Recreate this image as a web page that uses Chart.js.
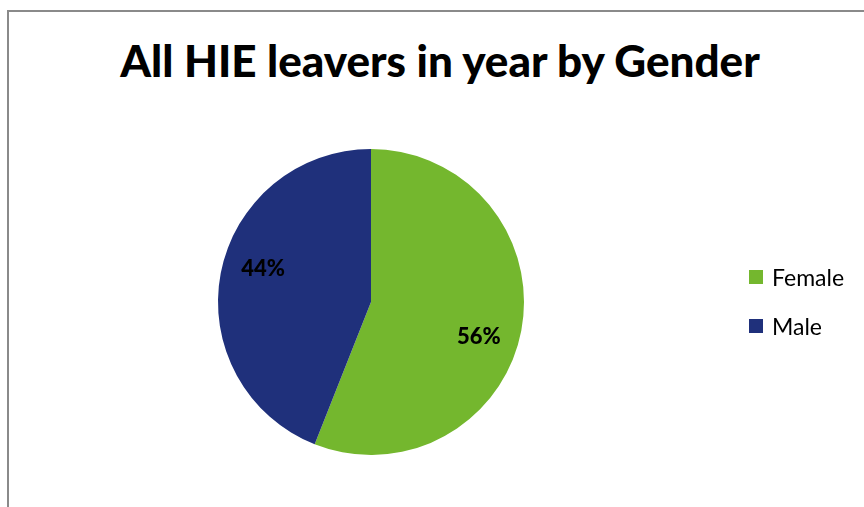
<!DOCTYPE html>
<html>
<head>
<meta charset="utf-8">
<script src="https://cdn.jsdelivr.net/npm/chart.js@4"></script>
<style>
  html, body { margin: 0; padding: 0; background: #fff; }
  body { width: 864px; height: 507px; position: relative; overflow: hidden; font-family: Lato, "Open Sans", sans-serif; }
  .frame { position: absolute; left: 7px; top: 10px; width: 900px; height: 560px; border: 2px solid #8a8a8a; box-sizing: border-box; }
  #chartWrap { position: absolute; left: 0; top: 0; width: 864px; height: 507px; }
  .title { position: absolute; left: 0; top: 34px; width: 880px; text-align: center; font-weight: 900; font-size: 44px; color: #000; white-space: nowrap; }
  #legend-gender { position: absolute; left: 749px; top: 252px; }
  .legend-item { display: flex; align-items: center; height: 49px; font-size: 23px; color: #000; }
  .legend-color { display: inline-block; width: 14px; height: 14px; margin-right: 9px; }
</style>
</head>
<body>
<div class="frame"></div>
<div class="title">All HIE leavers in year by Gender</div>
<div id="chartWrap"><canvas id="genderPie" width="864" height="507"></canvas></div>
<div id="legend-gender"></div>
<script>
const categories = ['Female', 'Male'];
const shares = [56, 44];
const colours = ['#74B72E', '#1F307B'];

// percentage labels placed from the arc geometry
const sliceLabels = {
    id: 'sliceLabels',
    afterDatasetsDraw(chart) {
        const c = chart.ctx;
        const meta = chart.getDatasetMeta(0);
        c.save();
        c.font = '900 22px Lato, "Open Sans", sans-serif';
        c.fillStyle = '#000';
        c.textAlign = 'center';
        c.textBaseline = 'middle';
        meta.data.forEach((arc, i) => {
            const p = arc.getProps(['x', 'y', 'startAngle', 'endAngle', 'outerRadius'], true);
            const mid = (p.startAngle + p.endAngle) / 2 + 0.12;
            const r = p.outerRadius * 0.74;
            c.fillText(shares[i] + '%', p.x + Math.cos(mid) * r, p.y + Math.sin(mid) * r + 1);
        });
        c.restore();
    }
};

const ctx = document.getElementById('genderPie').getContext('2d');
const genderChart = new Chart(ctx, {
    type: 'pie',
    data: {
        labels: categories,
        datasets: [{
            data: shares,
            backgroundColor: colours,
            borderWidth: 0,
            offset: 0,
            hoverOffset: 0
        }]
    },
    options: {
        responsive: false,
        animation: false,
        events: [],
        layout: { padding: { top: 149, bottom: 52, left: 218, right: 340 } },
        plugins: {
            legend: { display: false },
            tooltip: { enabled: false },
            title: { display: false }
        }
    },
    plugins: [sliceLabels]
});

// legend next to the pie
let legendHTML = '';
categories.forEach((name, i) => {
    legendHTML += `<div class="legend-item">
        <span class="legend-color" style="background-color:${colours[i]};"></span>${name}
    </div>`;
});
document.getElementById('legend-gender').innerHTML = legendHTML;
</script>
</body>
</html>
